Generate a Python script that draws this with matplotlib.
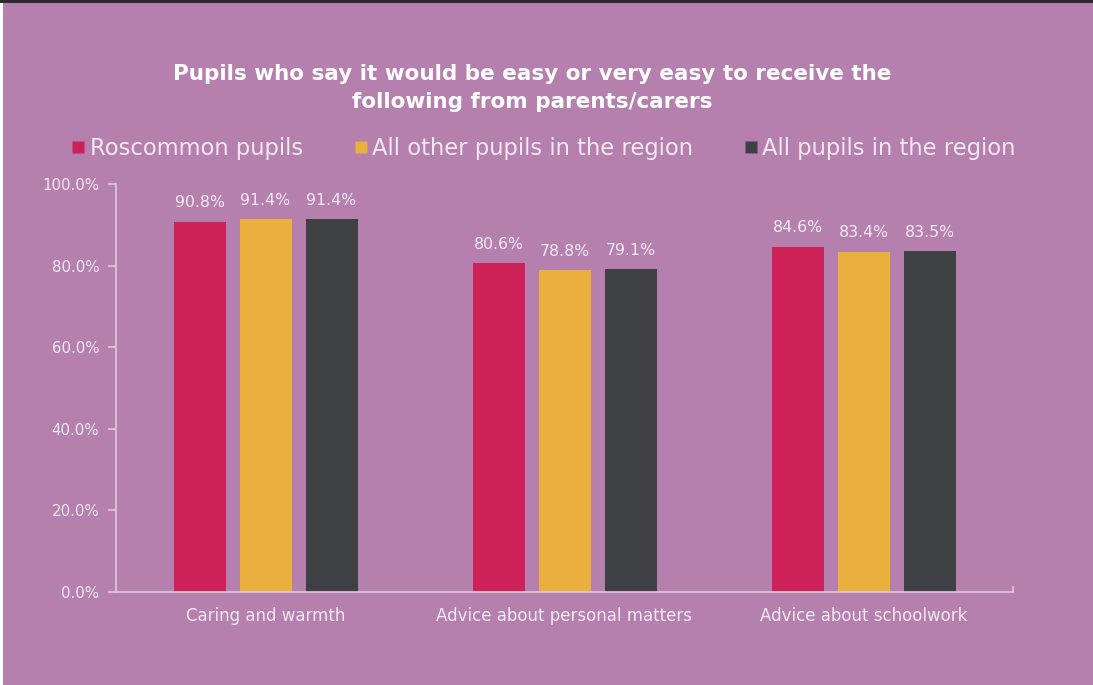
import matplotlib
matplotlib.use("Agg")
import matplotlib.pyplot as plt
from matplotlib.lines import Line2D
from matplotlib.patches import Rectangle
import numpy as np

categories = ["Caring and warmth", "Advice about personal matters", "Advice about schoolwork"]
series_names = ["Roscommon pupils", "All other pupils in the region", "All pupils in the region"]
roscommon = [90.8, 80.6, 84.6]
other_pupils = [91.4, 78.8, 83.4]
all_pupils = [91.4, 79.1, 83.5]
y_ticks = [0, 20, 40, 60, 80, 100]
y_tick_labels = ["0.0%", "20.0%", "40.0%", "60.0%", "80.0%", "100.0%"]

colors = ["#CC2259", "#EAB03E", "#3E4042"]
bg = "#B580AE"
text_col = "#F3E9F2"
axis_col = "#DCCBDA"

plt.rcParams["font.family"] = ["DejaVu Sans"]

W, H = 1093, 685
fig = plt.figure(figsize=(W / 100, H / 100), dpi=100)
fig.patch.set_facecolor(bg)

# frame strips around the panel
fig.add_artist(Rectangle((0, 1 - 3 / H), 1, 3 / H, transform=fig.transFigure,
                         facecolor="#2B2A2E", edgecolor="none"))
fig.add_artist(Rectangle((0, 0), 3 / W, 1 - 3 / H, transform=fig.transFigure,
                         facecolor="#FFFFFF", edgecolor="none"))

ax = fig.add_axes([116 / W, 1 - 592 / H, (1013 - 116) / W, (592 - 184) / H])
ax.set_facecolor(bg)

x = np.arange(len(categories))
bw = 52 / 299
step = 66 / 299
series = [roscommon, other_pupils, all_pupils]
for i, (vals, c, name) in enumerate(zip(series, colors, series_names)):
    pos = x + (i - 1) * step
    ax.bar(pos, vals, width=bw, color=c, label=name, zorder=2)
    for px, v in zip(pos, vals):
        ax.text(px, v + 2.8, f"{v:.1f}%", ha="center", va="bottom",
                color=text_col, fontsize=11.3)

ax.set_xlim(-0.5, 2.5)
ax.set_ylim(0, 100)
ax.set_yticks(y_ticks)
ax.set_yticklabels(y_tick_labels, color=text_col, fontsize=10.8)
ax.set_xticks(x)
ax.set_xticklabels(categories, color=text_col, fontsize=12)
ax.tick_params(axis="x", length=0, pad=11)
ax.tick_params(axis="y", length=6, width=1.2, color=axis_col, pad=6)
for s in ["top", "right"]:
    ax.spines[s].set_visible(False)
for s in ["left", "bottom"]:
    ax.spines[s].set_color(axis_col)
    ax.spines[s].set_linewidth(1.2)
# end tick on the right of the category axis
ax.plot([2.5, 2.5], [0, 1.2], color=axis_col, lw=1.2, clip_on=False)

fig.text(532 / W, 1 - 88 / H,
         "Pupils who say it would be easy or very easy to receive the\nfollowing from parents/carers",
         ha="center", va="center", color="white", fontsize=15.5, fontweight="bold",
         linespacing=1.55)

handles = [Line2D([], [], marker="s", linestyle="none", markersize=9,
                  markerfacecolor=c, markeredgecolor="none") for c in colors]
fig.legend(handles, series_names, loc="center", bbox_to_anchor=(544 / W, 1 - 148 / H),
           ncol=3, frameon=False, fontsize=16.3, labelcolor=text_col,
           handlelength=0.5, handletextpad=0.25, columnspacing=2.3)

fig.savefig("out.png", dpi=100, facecolor=bg)
